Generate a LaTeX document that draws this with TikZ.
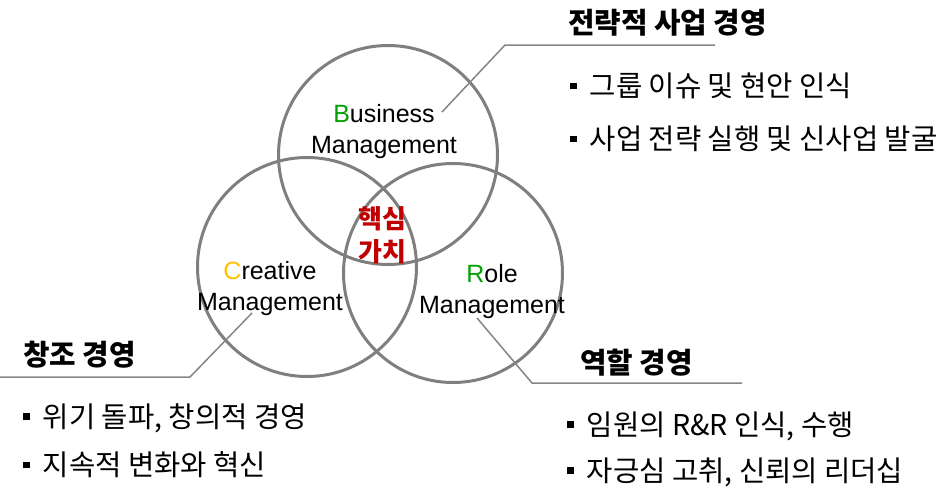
\documentclass[tikz,border=0pt]{standalone}
\usepackage{fontspec}
\setmainfont{Liberation Sans}
\newfontfamily\kr{Noto Sans CJK KR}
\definecolor{cgray}{HTML}{7F7F7F}
\definecolor{lgray}{HTML}{858585}
\definecolor{bgreen}{HTML}{00A000}
\definecolor{corange}{HTML}{FFC000}
\definecolor{cred}{HTML}{C00000}
\newcommand\sqb{\rule[7.4pt]{6.5pt}{6.5pt}\hspace{13pt}}
\begin{document}
\begin{tikzpicture}[x=1pt,y=-1pt,
  ring/.style={circle, draw=cgray, line width=3pt, minimum size=219pt, inner sep=0pt},
  lead/.style={draw=lgray, line width=1.5pt, line join=round},
  eng/.style={font=\fontsize{25}{28}\selectfont, inner sep=0pt, anchor=base},
  ttl/.style={font=\kr\bfseries\fontsize{28.8}{32}\selectfont, inner sep=0pt, anchor=west},
  itm/.style={font=\kr\fontsize{28.6}{32}\selectfont, inner sep=0pt, anchor=west},
  core/.style={font=\kr\bfseries\fontsize{26}{33}\selectfont, text=cred, align=center, inner sep=0pt}
]
\useasboundingbox (0,0) rectangle (946,490);
% circles
\node[ring] (biz) at (388,155) {};
\node[ring] (cre) at (307,267) {};
\node[ring] (role) at (453,273) {};
% labels in circles
\node[eng] (biz1) at (384,122) {\textcolor{bgreen}{B}usiness};
\node[eng] (biz2) at (384,153) {Management};
\node[eng] (cre1) at (270,279) {\textcolor{corange}{C}reative};
\node[eng] (cre2) at (270,310) {Management};
\node[eng] (role1) at (492,282) {\textcolor{bgreen}{R}ole};
\node[eng] (role2) at (492,313) {Management};
\node[core] (corev) at (382,235) {핵심\\가치};
% connectors
\coordinate (p1s) at (442,112);
\coordinate (p1m) at (505,45);
\coordinate (p1e) at (715,45);
\draw[lead] (p1s) -- (p1m) -- (p1e);
\coordinate (p2s) at (252,313);
\coordinate (p2m) at (190,377);
\coordinate (p2e) at (0,377);
\draw[lead] (p2s) -- (p2m) -- (p2e);
\coordinate (p3s) at (477,318);
\coordinate (p3m) at (532,383);
\coordinate (p3e) at (742,383);
\draw[lead] (p3s) -- (p3m) -- (p3e);
% titles
\node[ttl] (t1) at (568,23) {전략적 사업 경영};
\node[ttl] (t2) at (23,355) {창조 경영};
\node[ttl] (t3) at (580,363) {역할 경영};
% items
\node[itm] (i1a) at (570,86) {\sqb 그룹 이슈 및 현안 인식};
\node[itm] (i1b) at (570,139) {\sqb 사업 전략 실행 및 신사업 발굴};
\node[itm] (i2a) at (23,418) {\sqb 위기 돌파, 창의적 경영};
\node[itm] (i2b) at (23,465) {\sqb 지속적 변화와 혁신};
\node[itm] (i3a) at (567,426) {\sqb 임원의 R\&R 인식, 수행};
\node[itm] (i3b) at (567,472) {\sqb 자긍심 고취, 신뢰의 리더십};
\end{tikzpicture}
\end{document}
